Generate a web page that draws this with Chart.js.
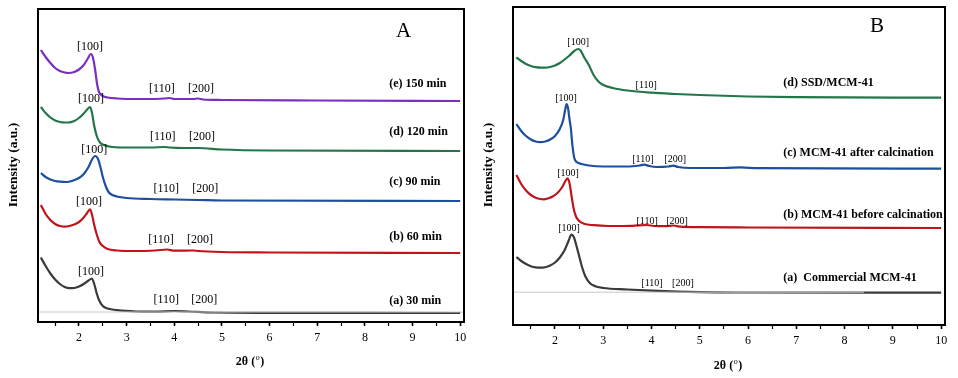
<!DOCTYPE html>
<html>
<head>
<meta charset="utf-8">
<script src="https://cdn.jsdelivr.net/npm/chart.js@4"></script>
<style>
html,body{margin:0;padding:0;background:#fff;}
#wrap{position:relative;width:958px;height:378px;overflow:hidden;background:#fff;}
canvas{position:absolute;top:0;}
</style>
</head>
<body>
<div id="wrap">
<canvas id="cA" width="480" height="378" style="left:0"></canvas>
<canvas id="cB" width="478" height="378" style="left:480px"></canvas>
</div>
<script>
// ---------- Panel A data (2θ, intensity a.u. with offsets) ----------
const xTickValues = [1.5,2,2.5,3,3.5,4,4.5,5,5.5,6,6.5,7,7.5,8,8.5,9,9.5,10];

const a30X  = [1.2,1.3,1.4,1.5,1.6,1.7,1.8,1.9,2.0,2.1,2.2,2.27,2.32,2.37,2.42,2.5,2.6,2.8,3.2,3.6,4.0,4.3,4.8,6,10];
const a30Y  = [64.5,56,48.5,42.5,38,35,33.8,34,35.5,38,41.5,43.5,38,29,22,16,13.5,11.8,10.5,10.3,11,10.5,9.5,9.2,9];
const a60X  = [1.2,1.3,1.4,1.5,1.6,1.7,1.8,1.9,2.0,2.1,2.17,2.23,2.27,2.32,2.37,2.43,2.5,2.6,2.8,3.1,3.6,3.85,4.0,4.4,4.5,5,6,10];
const a60Y  = [117,108,102,98,96,95.3,96,97.5,100,104.5,109,112.7,108,97,88,80,76,73,71.5,71,71.5,72.5,71.3,71.5,71,70,69.5,69];
const a90X  = [1.2,1.3,1.4,1.5,1.6,1.74,1.85,2.0,2.1,2.2,2.28,2.34,2.4,2.45,2.5,2.56,2.62,2.7,2.85,3,3.5,4,4.5,5,10];
const a90Y  = [149,145,142.5,141,140.3,140,141,144,148,155,163,166,163,155,145,136,130,127,125,124,123,122.5,122,121.5,121];
const a120X = [1.2,1.3,1.4,1.5,1.6,1.7,1.78,1.9,2.0,2.1,2.18,2.23,2.27,2.32,2.38,2.45,2.55,2.7,3,3.5,3.8,3.9,4.2,4.5,5,6,10];
const a120Y = [215,209,204.5,201.5,200,199.5,199.5,201,204,208.5,213,215,210,196,185,179,176.5,175,174.5,174.5,175,174.5,174,174,172.5,171.5,171];
const a150X = [1.2,1.3,1.4,1.5,1.6,1.7,1.78,1.9,2.0,2.1,2.18,2.25,2.29,2.34,2.38,2.42,2.5,2.6,2.8,3.3,3.8,3.9,4.0,4.4,4.5,4.6,5,7,10];
const a150Y = [272,265,259,254,251,249.5,249,250,252.5,257,263,268,265,252,238,230,226,224.5,223.5,223,223.5,224,223,223,223.5,222.5,222,221.5,221];
const aBaseX = [1.1,10.1];
const aBaseY = [10,10];

const aNames  = ['(a) 30 min','(b) 60 min','(c) 90 min','(d) 120 min','(e) 150 min'];
const aColors = ['#3a3a3a','#c0141c','#1c4f9c','#23764a','#7a2fbf'];
const aNameY  = [21,85,140,190,238];
const aNameX  = 8.51;
const aPeakTxt = ['[100]','[110]','[200]'];
const aP100X = [2.25,2.21,2.32,2.25,2.23];
const aP100Y = [50,120,172,223,275];
const aP110X = [3.83,3.72,3.83,3.76,3.74];
const aP200X = [4.63,4.54,4.65,4.58,4.56];
const aP110Y = [22,82,133,185,233];

// ---------- Panel B data ----------
const bComX = [1.2,1.3,1.4,1.5,1.6,1.69,1.8,1.9,2.0,2.1,2.2,2.28,2.34,2.39,2.44,2.5,2.56,2.63,2.73,2.85,3.0,3.5,4,5,6,10];
const bComY = [68,64,61,58.8,57.6,57.3,57.8,59.5,62.5,67.5,75,84,90.3,88,80,69,58,48.5,41.5,38.5,37,35.5,34.3,32.8,32.5,32.3];
const bBefX = [1.2,1.3,1.4,1.5,1.6,1.7,1.76,1.85,1.95,2.05,2.15,2.21,2.26,2.3,2.34,2.38,2.43,2.5,2.6,2.8,3.1,3.6,3.9,4.05,4.3,4.45,4.6,5,6,10];
const bBefY = [150,141,134.5,130,127.3,126,125.7,126.5,128.5,132,138,143.5,146.7,142,130,118,109,104,101.3,99.8,99,99.2,100,99,98.8,99.5,98.3,97.8,97.5,97];
const bAftX = [1.2,1.3,1.4,1.5,1.6,1.69,1.8,1.9,2.0,2.1,2.17,2.21,2.24,2.27,2.3,2.33,2.36,2.4,2.45,2.55,2.7,3.0,3.5,3.75,3.85,3.95,4.1,4.35,4.45,4.55,4.8,5.5,5.85,6.2,10];
const bAftY = [201,194,189,185.5,183.5,182.8,183.5,185.5,189,196,205,215,221,217,206,196,180,167,163,161,159.5,158.5,158.5,159.5,160.3,159,158,158.5,159.3,158,157,157,157.6,156.8,156.3];
const bSsdX = [1.2,1.3,1.4,1.5,1.6,1.7,1.8,1.9,2.0,2.1,2.2,2.3,2.4,2.48,2.53,2.6,2.7,2.8,2.9,3.0,3.2,3.5,4,4.5,5,6,7,10];
const bSsdY = [267.5,264,261,259,257.8,257.3,257.3,258,259.5,262,265.5,269.5,274,276,274.5,268,260,250,243.5,240,237,234.5,232.3,231,230,228.5,227.8,227.3];
const bBaseX = [1.1,8.4];
const bBaseY = [32.8,32.8];

const bNames  = ['(a)  Commercial MCM-41','(b) MCM-41 before calcination','(c) MCM-41 after calcination','(d) SSD/MCM-41'];
const bColors = ['#3a3a3a','#c0141c','#1c4f9c','#23764a'];
const bNameY  = [47,110,172,242];
const bNameX  = 6.73;
const bP100X = [2.29,2.27,2.23,2.48];
const bP100Y = [97,152,227,283];
const bP110X = [4.01,3.91,3.82,3.89];
const bP110Y = [42,104,166,240];
const bP200X = [4.65,4.53,4.49,null];

const SERIF = '"Liberation Serif","Times New Roman",serif';

function pts(xs, ys){ return xs.map((x,i)=>({x:x, y:ys[i]})); }

function lineDs(xs, ys, color, w){
  return {data: pts(xs,ys), borderColor: color, borderWidth: w, pointRadius: 0,
          fill:false, tension:0.4, cubicInterpolationMode:'monotone'};
}

function makePlugin(cfg){
  return {
    id: 'deco'+cfg.key,
    afterDatasetsDraw(chart){
      const ctx = chart.ctx, xs = chart.scales.x, ys = chart.scales.y, ca = chart.chartArea;
      ctx.save();
      // frame
      ctx.strokeStyle = '#000'; ctx.lineWidth = 2;
      ctx.strokeRect(ca.left, ca.top, ca.right-ca.left, ca.bottom-ca.top);
      ctx.fillStyle = '#000';
      ctx.textBaseline = 'middle';
      // peak labels
      ctx.font = cfg.peakFont;
      ctx.textAlign = 'center';
      for (let i=0;i<cfg.p100X.length;i++){
        ctx.fillText(aPeakTxt[0], xs.getPixelForValue(cfg.p100X[i]), ys.getPixelForValue(cfg.p100Y[i]));
        ctx.fillText(aPeakTxt[1], xs.getPixelForValue(cfg.p110X[i]), ys.getPixelForValue(cfg.p110Y[i]));
        if (cfg.p200X[i] != null)
          ctx.fillText(aPeakTxt[2], xs.getPixelForValue(cfg.p200X[i]), ys.getPixelForValue(cfg.p110Y[i]));
      }
      // series names
      ctx.font = 'bold 12px ' + SERIF;
      ctx.textAlign = 'left';
      for (let i=0;i<cfg.names.length;i++){
        ctx.fillText(cfg.names[i], xs.getPixelForValue(cfg.nameX), ys.getPixelForValue(cfg.nameY[i]));
      }
      // panel letter
      ctx.font = '21px ' + SERIF;
      ctx.textAlign = 'center';
      ctx.fillText(cfg.letter, xs.getPixelForValue(cfg.letterX), ys.getPixelForValue(cfg.letterY));
      // y title
      ctx.font = 'bold 13.5px ' + SERIF;
      ctx.save();
      ctx.translate(cfg.yTitle[0], cfg.yTitle[1]);
      ctx.rotate(-Math.PI/2);
      ctx.textAlign = 'center';
      ctx.fillText('Intensity (a.u.)', 0, 0);
      ctx.restore();
      // x title: 2θ (°)
      ctx.font = 'bold 12px ' + SERIF;
      const p1 = '2θ (', p3 = ')';
      const w1 = ctx.measureText(p1).width, w3 = ctx.measureText(p3).width;
      ctx.font = '8px ' + SERIF;
      const w2 = ctx.measureText('o').width + 1;
      const tot = w1 + w2 + w3;
      let sx = cfg.xTitle[0] - tot/2;
      ctx.textAlign = 'left';
      ctx.font = 'bold 12px ' + SERIF;
      ctx.fillText(p1, sx, cfg.xTitle[1]);
      ctx.font = '8px ' + SERIF;
      ctx.fillText('o', sx + w1 + 0.5, cfg.xTitle[1] - 4);
      ctx.font = 'bold 12px ' + SERIF;
      ctx.fillText(p3, sx + w1 + w2, cfg.xTitle[1]);
      ctx.restore();
    }
  };
}

function makeChart(id, datasets, cfg){
  return new Chart(document.getElementById(id), {
    type: 'line',
    data: { datasets: datasets },
    options: {
      responsive: false, animation: false, devicePixelRatio: 1,
      layout: { padding: { left: cfg.padL, right: cfg.padR, top: cfg.padT, bottom: 0 } },
      plugins: { legend: {display:false}, tooltip: {enabled:false} },
      scales: {
        x: {
          type: 'linear', min: cfg.xmin, max: cfg.xmax,
          afterBuildTicks: (s) => { s.ticks = xTickValues.map(v => ({value: v})); },
          afterFit: (s) => { s.height = cfg.xAxisH; },
          border: { display: false },
          grid: { drawOnChartArea: false, color: '#000', tickLength: 4,
                  tickWidth: (c) => (Number.isInteger(c.tick && c.tick.value) ? 1.6 : 1.2) },
          ticks: { autoSkip: false, maxRotation: 0, padding: 5, color: '#000',
                   font: { family: SERIF, size: 12 },
                   callback: (v) => (Number.isInteger(v) ? String(v) : '') }
        },
        y: { display: false, min: 0, max: cfg.ymax }
      }
    },
    plugins: [makePlugin(cfg)]
  });
}

// Panel A
const dsA = [
  {data: pts(aBaseX,aBaseY), borderColor:'#c8c8c8', borderWidth:1, pointRadius:0, fill:false, tension:0}
].concat([
  [a30X,a30Y],[a60X,a60Y],[a90X,a90Y],[a120X,a120Y],[a150X,a150Y]
].map((s,i)=>lineDs(s[0], s[1], aColors[i], 2.2)));

makeChart('cA', dsA, {
  key:'A', padL:38, padR:16, padT:9, xAxisH:56, xmin:1.14, xmax:10.08, ymax:313,
  peakFont: '12px ' + SERIF,
  p100X:aP100X, p100Y:aP100Y, p110X:aP110X, p110Y:aP110Y, p200X:aP200X,
  names:aNames, nameX:aNameX, nameY:aNameY,
  letter:'A', letterX:8.81, letterY:291,
  yTitle:[14,165], xTitle:[250,362]
});

// Panel B
const dsB = [
  {data: pts(bBaseX,bBaseY), borderColor:'#c8c8c8', borderWidth:1, pointRadius:0, fill:false, tension:0}
].concat([
  [bComX,bComY],[bBefX,bBefY],[bAftX,bAftY],[bSsdX,bSsdY]
].map((s,i)=>lineDs(s[0], s[1], bColors[i], 2.2)));

makeChart('cB', dsB, {
  key:'B', padL:33, padR:13, padT:7, xAxisH:53, xmin:1.13, xmax:10.08, ymax:318,
  peakFont: '10px ' + SERIF,
  p100X:bP100X, p100Y:bP100Y, p110X:bP110X, p110Y:bP110Y, p200X:bP200X,
  names:bNames, nameX:bNameX, nameY:bNameY,
  letter:'B', letterX:8.67, letterY:299,
  yTitle:[9,165], xTitle:[248,366]
});
</script>
</body>
</html>
